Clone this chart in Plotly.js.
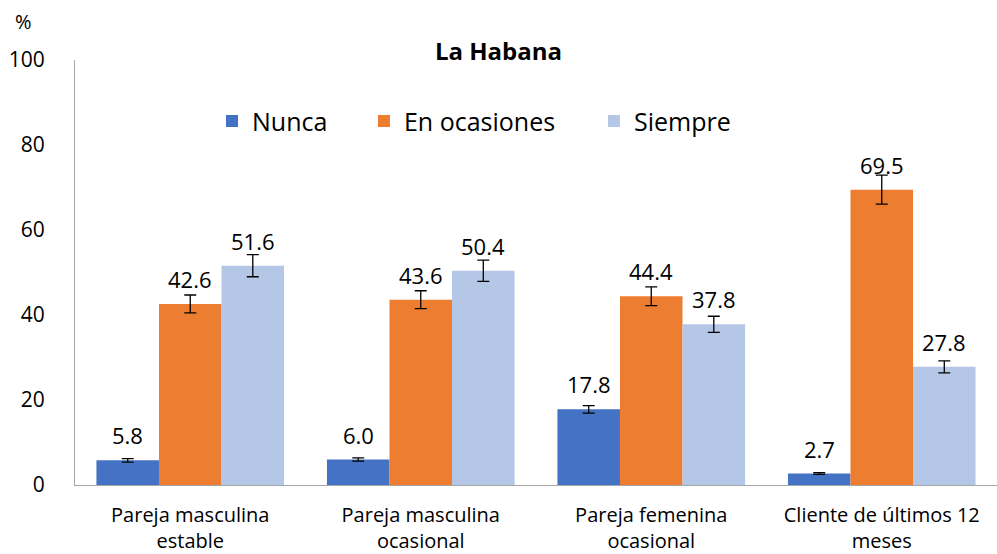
<!DOCTYPE html>
<html>
<head>
<meta charset="utf-8">
<script src="https://cdn.plot.ly/plotly-3.0.1.min.js"></script>
<style>html,body{margin:0;padding:0;background:#fff;}#chart{width:997px;height:554px;}</style>
</head>
<body>
<div id="chart"></div>
<script>
const categories = ["Pareja masculina<br>estable", "Pareja masculina<br>ocasional", "Pareja femenina<br>ocasional", "Cliente de últimos 12<br>meses"];
const seriesNames = ["Nunca", "En ocasiones", "Siempre"];
const nunca = [5.8, 6.0, 17.8, 2.7];
const enOcasiones = [42.6, 43.6, 44.4, 69.5];
const siempre = [51.6, 50.4, 37.8, 27.8];
const errNunca = [0.4, 0.4, 0.9, 0.2];
const errEnOcasiones = [2.1, 2.1, 2.2, 3.4];
const errSiempre = [2.6, 2.5, 1.9, 1.4];
const yTicks = [0, 20, 40, 60, 80, 100];

const colors = ["#4472C4", "#ED7D31", "#B4C7E7"];
const values = [nunca, enOcasiones, siempre];
const errs = [errNunca, errEnOcasiones, errSiempre];
const FONT = "'Open Sans', 'Noto Sans', sans-serif";
const legendIds = ["legend", "legend2", "legend3"];
const legendX = [0.1486, 0.3134, 0.5629];

const BAR_GAP = 0.186;
const plotW = 997 - 75 - 0;
const barW = plotW / categories.length * (1 - BAR_GAP) / values.length;

const traces = values.map((v, i) => ({
  type: "bar",
  name: seriesNames[i],
  legend: legendIds[i],
  x: categories,
  y: v,
  marker: {color: colors[i]},
  error_y: {type: "data", array: errs[i], visible: true, color: "#000", thickness: 1.3, width: 6},
  hoverinfo: "none"
}));

const annotations = [];
values.forEach((v, i) => {
  v.forEach((d, j) => {
    annotations.push({
      x: categories[j], y: d, xref: "x", yref: "y",
      text: d.toFixed(1), showarrow: false,
      xanchor: "center", yanchor: "bottom",
      xshift: (i - (values.length - 1) / 2) * barW, yshift: 8,
      font: {size: 22, family: FONT, color: "#000"}
    });
  });
});
annotations.push({text: "%", xref: "paper", yref: "paper", x: -0.067, y: 1.09, xanchor: "left", yanchor: "middle", showarrow: false, font: {size: 20, family: FONT, color: "#000"}});

const legendBase = {orientation: "h", xanchor: "left", y: 0.856, yanchor: "middle", font: {size: 25, family: FONT, color: "#000"}, bgcolor: "rgba(0,0,0,0)", borderwidth: 0};

const layout = {
  width: 997, height: 554,
  margin: {l: 75, r: 0, t: 60, b: 69},
  paper_bgcolor: "#fff", plot_bgcolor: "#fff",
  barmode: "group", bargap: BAR_GAP, bargroupgap: 0,
  font: {family: FONT, color: "#000"},
  title: {text: "<b>La Habana</b>", font: {size: 24, family: FONT, color: "#000"}, x: 0.5, xanchor: "center", y: 0.906, yanchor: "middle"},
  showlegend: true,
  legend: Object.assign({}, legendBase, {x: legendX[0]}),
  legend2: Object.assign({}, legendBase, {x: legendX[1]}),
  legend3: Object.assign({}, legendBase, {x: legendX[2]}),
  xaxis: {showgrid: false, showline: true, linecolor: "#a6a6a6", linewidth: 1, ticks: "", tickfont: {size: 20, family: FONT, color: "#000"}, zeroline: false, ticklabelstandoff: 12},
  yaxis: {range: [0, 100], tickvals: yTicks, ticktext: yTicks.map(String), showgrid: false, showline: true, linecolor: "#a6a6a6", linewidth: 1, ticks: "", tickfont: {size: 21, family: FONT, color: "#000"}, zeroline: false, ticklabelstandoff: 25},
  annotations: annotations
};

Plotly.newPlot("chart", traces, layout, {displayModeBar: false, staticPlot: true});
</script>
</body>
</html>
